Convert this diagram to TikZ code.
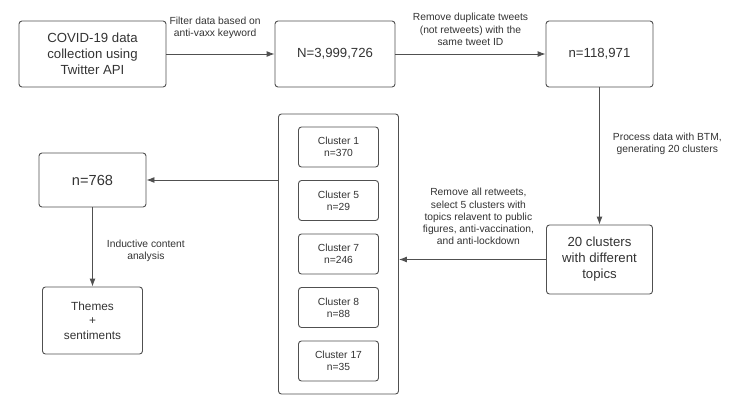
\documentclass[tikz,border=0pt]{standalone}
\usepackage{fontspec}
\setmainfont{Liberation Sans}
\usetikzlibrary{positioning,arrows.meta}
\definecolor{linegray}{RGB}{80,80,80}
\definecolor{textgray}{RGB}{51,51,51}
\tikzset{
  box/.style={draw=linegray, rounded corners=3pt, align=center, text=textgray,
    inner sep=0pt, font=\fontsize{13.2}{16}\selectfont},
  clusterbox/.style={box, minimum width=80pt, minimum height=40pt,
    font=\fontsize{10.3}{12.3}\selectfont},
  lbl/.style={align=center, text=textgray, inner sep=0pt,
    font=\fontsize{10.3}{12.3}\selectfont},
  flow/.style={draw=linegray, -{Latex[length=8pt,width=6pt]}}
}

\begin{document}
\begin{tikzpicture}[x=1pt,y=1pt,on grid,line width=0.9pt]
   \useasboundingbox (0,0) rectangle (732,-400);
   \node[box, minimum width=147pt, minimum height=66pt] (collect) at (92.5,-54) {COVID-19 data\\collection using\\Twitter API};
   \node[box, minimum width=120pt, minimum height=66pt] (raw) [right=242.5pt of collect] {N=3,999,726};
   \node[box, minimum width=107pt, minimum height=66pt] (dedup) [right=264.5pt of raw] {n=118,971};
   \node[box, minimum width=106pt, minimum height=69pt] (topics) [below=205.5pt of dedup] {20 clusters\\with different\\topics};
   \node[box, minimum width=120pt, minimum height=280pt] (group) [above left=5.5pt and 261pt of topics] {};
   \node[clusterbox] (c_1) [below=13pt of group.north] {Cluster 1\\n=370};
   \node[clusterbox] (c_5) [below=53.5pt of c_1] {Cluster 5\\n=29};
   \node[clusterbox] (c_7) [below=53.5pt of c_5] {Cluster 7\\n=246};
   \node[clusterbox] (c_8) [below=53.5pt of c_7] {Cluster 8\\n=88};
   \node[clusterbox] (c_17) [below=53.5pt of c_8] {Cluster 17\\n=35};
   \node[box, minimum width=107pt, minimum height=54pt, font=\fontsize{14.6}{17}\selectfont] (sample) [below=126pt of collect] {n=768};
   \node[box, minimum width=100pt, minimum height=67pt, font=\fontsize{11.8}{14.5}\selectfont] (themes) [below=140.5pt of sample] {Themes\\+\\sentiments};

   \draw[flow] (collect) -- node[lbl, above=15pt, pos=0.45] {Filter data based on\\anti-vaxx keyword} (raw);
   \draw[flow] (raw) -- node[lbl, above=8pt] {Remove duplicate tweets\\(not retweets) with the\\same tweet ID} (dedup);
   \draw[flow] (dedup) -- node[lbl, right=13pt, pos=0.41] {Process data with BTM,\\generating 20 clusters} (topics);
   \draw[flow] (topics.west) -- node[lbl, above=14pt, pos=0.46] {Remove all retweets,\\select 5 clusters with\\topics relavent to public\\figures, anti-vaccination,\\and anti-lockdown} (topics.west -| group.east);
   \draw[flow] (group.west |- sample) -- (sample);
   \draw[flow] (sample) -- node[lbl, right=14pt, pos=0.55] {Inductive content\\analysis} (themes);
\end{tikzpicture}
\end{document}
